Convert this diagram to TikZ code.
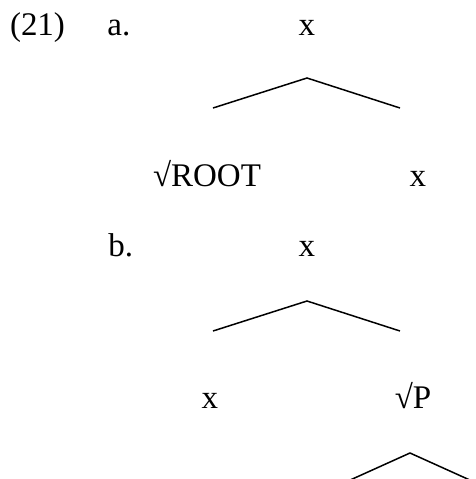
\documentclass[tikz,border=0pt]{standalone}
\usepackage{fontspec}
\setmainfont{Liberation Serif}
\usetikzlibrary{positioning}

\begin{document}
\begin{tikzpicture}[x=0.5pt,y=-0.5pt,every node/.style={font=\fontsize{16.5}{20}\selectfont,anchor=base,inner sep=0pt},br/.style={line width=0.75pt}]
\useasboundingbox (0,0) rectangle (476,479);
\clip (0,0) rectangle (476,479);
% (21a)
\node (ex) at (37.5,35) {(21)};
\node[anchor=base west] (la) at (107,35) {a.};
\node (xa) at (307,35) {x};
\node (roota) at (207,186) {√ROOT};
\node (xra) at (418,186) {x};
\coordinate (ta) at (307,78);\coordinate (lta) at (213,108);\coordinate (rta) at (400,108);
\draw[br] (lta)--(ta)--(rta);
% (21b)
\node[anchor=base west] (lb) at (108,256) {b.};
\node (xb) at (307,256) {x};
\node (xlb) at (210,408) {x};
\node (rpb) at (413,408) {√P};
\coordinate (tb) at (307,301);\coordinate (ltb) at (213,331);\coordinate (rtb) at (400,331);
\draw[br] (ltb)--(tb)--(rtb);
\coordinate (tp) at (410,453);\coordinate (ltp) at (348,481);\coordinate (rtp) at (472,481);
\draw[br] (ltp)--(tp)--(rtp);
\end{tikzpicture}
\end{document}
